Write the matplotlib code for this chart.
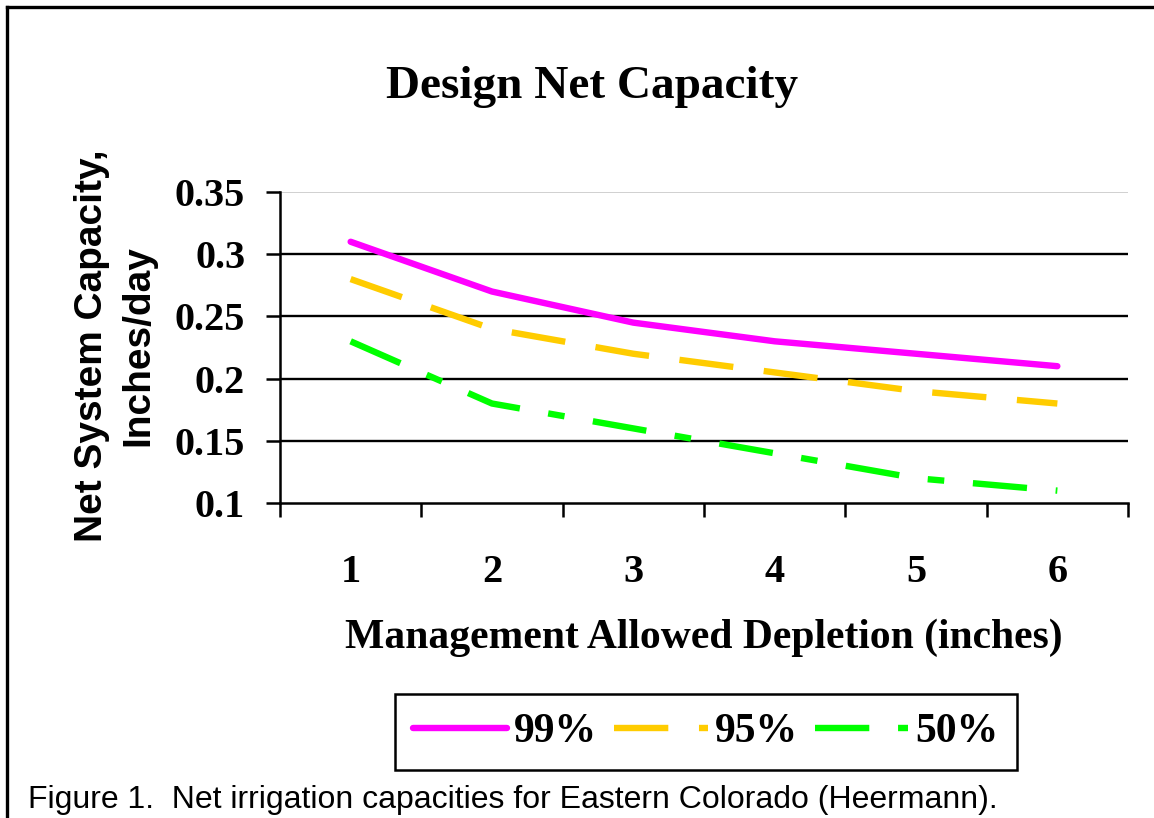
import numpy as np
import matplotlib
matplotlib.use('Agg')
import matplotlib.pyplot as plt
from matplotlib.lines import Line2D

# data
depletion = [1, 2, 3, 4, 5, 6]
cap_99 = [0.31, 0.27, 0.245, 0.23, 0.22, 0.21]
cap_95 = [0.28, 0.24, 0.22, 0.205, 0.19, 0.18]
cap_50 = [0.23, 0.18, 0.16, 0.14, 0.12, 0.11]
series_labels = ['99%', '95%', '50%']
y_ticks = [0.1, 0.15, 0.2, 0.25, 0.3, 0.35]
y_tick_labels = ['0.1', '0.15', '0.2', '0.25', '0.3', '0.35']

plt.rcParams['font.family'] = 'Liberation Serif'
plt.rcParams['font.weight'] = 'bold'
SANS = 'Liberation Sans'

fig = plt.figure(figsize=(11.54, 8.18), dpi=100)
ax = fig.add_axes([0.2426, 0.385, 0.7349, 0.3803])

# gridlines: black inside, light grey at the top
for y in y_ticks[1:-1]:
    ax.axhline(y, color='black', lw=1.7, zorder=1)
ax.axhline(y_ticks[-1], color='#c8c8c8', lw=1.2, zorder=1)

lw = 4.6
l99, = ax.plot(depletion, cap_99, color='#FF00FF', lw=lw,
               solid_capstyle='round', solid_joinstyle='round', zorder=3)
l95, = ax.plot(depletion, cap_95, color='#FFCC00', lw=lw,
               dashes=(8.5, 4.8), dash_capstyle='butt', zorder=3)
l50, = ax.plot(depletion, cap_50, color='#00FF00', lw=lw,
               dashes=(8.5, 4.5, 2.6, 4.5), dash_capstyle='butt', zorder=3)

ax.set_xlim(0.5, 6.5)
ax.set_ylim(y_ticks[0], y_ticks[-1])

for side in ['top', 'right']:
    ax.spines[side].set_visible(False)
for side in ['left', 'bottom']:
    ax.spines[side].set_linewidth(1.8)
    ax.spines[side].set_color('black')

ax.set_yticks(y_ticks, y_tick_labels)
ax.tick_params(axis='y', direction='out', length=10, width=1.8, pad=15,
               labelsize=29)

# tick marks between categories, labels centred on categories
ax.set_xticks(np.arange(0.5, 7, 1), [''] * 7)
ax.set_xticks(depletion, [str(d) for d in depletion], minor=True)
ax.tick_params(axis='x', which='major', direction='out', length=10, width=1.8)
ax.tick_params(axis='x', which='minor', length=0, pad=37, labelsize=29)

fig.text(0.513, 0.880, 'Design Net Capacity', ha='center', va='baseline',
         fontsize=34)
fig.text(0.61, 0.2078, 'Management Allowed Depletion (inches)',
         ha='center', va='baseline', fontsize=30)
fig.text(0.0797, 0.577, 'Net System Capacity,', rotation=90, ha='center',
         va='center', fontsize=28, family=SANS, weight='bold')
fig.text(0.1196, 0.577, 'Inches/day', rotation=90, ha='center',
         va='center', fontsize=28, family=SANS, weight='bold')

leg = fig.legend([l99, l95, l50], series_labels, loc='center',
                 bbox_to_anchor=((395 + 1017) / 2 / 1154, 1 - (692 + 772) / 2 / 818),
                 ncol=3, fontsize=30, frameon=True, fancybox=False,
                 edgecolor='black', framealpha=1, handlelength=2.25,
                 handletextpad=0.17, columnspacing=0.4, borderpad=0.45,
                 borderaxespad=0)
leg.get_frame().set_linewidth(1.8)

fig.text(0.0243, 0.0122,
         'Figure 1.  Net irrigation capacities for Eastern Colorado (Heermann).',
         ha='left', va='baseline', fontsize=23, family=SANS, weight='normal')

# outer frame (left and top edges)
fig.add_artist(Line2D([0.006, 0.006], [0, 0.9914], transform=fig.transFigure,
                      color='black', lw=2.4))
fig.add_artist(Line2D([0.006, 1], [0.9914, 0.9914], transform=fig.transFigure,
                      color='black', lw=2.4))

fig.savefig('out.png', dpi=100)
